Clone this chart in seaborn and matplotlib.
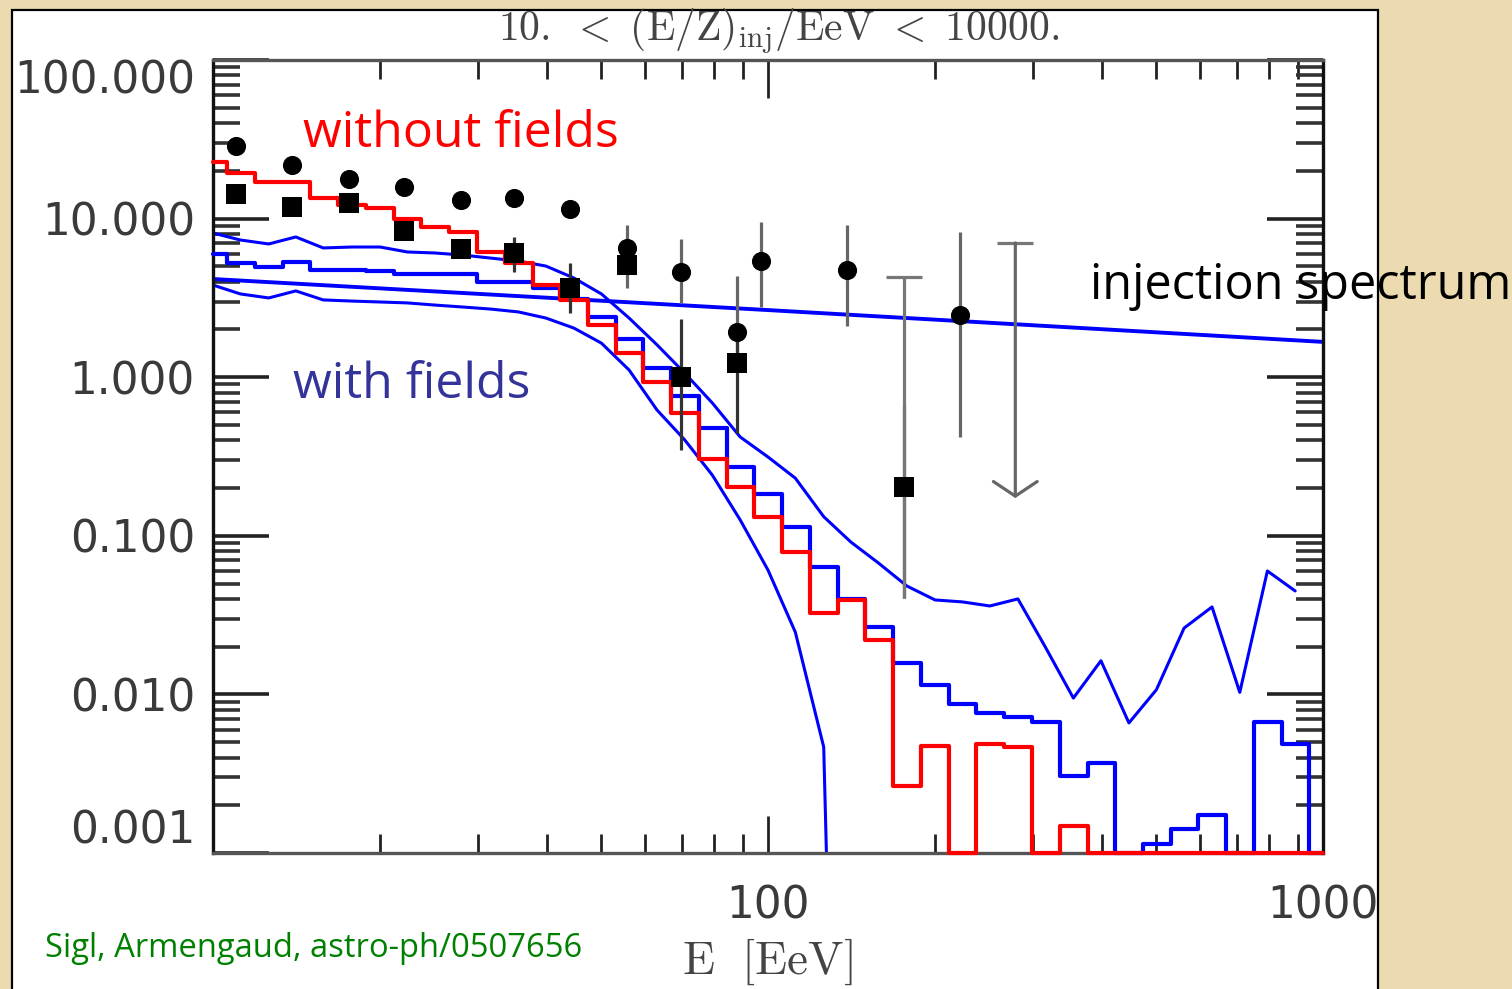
"""UHECR spectra with and without magnetic fields compared to data."""

from __future__ import annotations

import matplotlib
import matplotlib.pyplot as plt
import numpy as np
import seaborn as sns
from matplotlib.patches import Rectangle
from matplotlib.ticker import LogLocator, NullFormatter

matplotlib.use("Agg")

FIG_W, FIG_H = 1512, 989
Y_MIN, Y_MAX = 1e-3, 100.0

# histogram bin centres (EeV), 20 bins per decade
bin_energy = [10.0, 11.2, 12.6, 14.1, 15.8, 17.8, 20.0, 22.4, 25.1, 28.2, 31.6, 35.5, 39.8, 44.7,
              50.1, 56.2, 63.1, 70.8, 79.4, 89.1, 100.0, 112.0, 126.0, 141.0, 158.0, 178.0, 200.0,
              224.0, 251.0, 282.0, 316.0, 355.0, 398.0, 447.0, 501.0, 562.0, 631.0, 708.0, 794.0,
              891.0, 1000.0]

# "without fields" histogram
red_hist = [22.7, 19.4, 17.0, 17.0, 13.5, 12.2, 11.7, 9.96, 8.86, 8.26, 6.17, 5.25, 3.81, 3.07,
            2.13, 1.42, 0.93, 0.594, 0.305, 0.203, 0.132, 0.079, 0.0326, 0.0394, 0.0220, 0.00264,
            0.00473, 0.0, 0.00486, 0.00466, 0.0, 0.00148, 0.0, 0.0, 0.0, 0.0, 0.0, 0.0, 0.0, 0.0, 0.0]

# "with fields" histogram
blue_hist = [5.98, 5.25, 4.95, 5.33, 4.74, 4.74, 4.70, 4.47, 4.47, 4.47, 3.98, 3.98, 3.65, 3.11,
             2.40, 1.74, 1.14, 0.760, 0.479, 0.272, 0.184, 0.113, 0.0635, 0.0400, 0.0266, 0.0158,
             0.01146, 0.00868, 0.00764, 0.00721, 0.00670, 0.00305, 0.00369, 0.0, 0.00114, 0.00142,
             0.00174, 0.0, 0.00670, 0.00486, 0.0]

# "with fields" upper / lower envelopes
upper_curve = [8.11, 7.33, 6.92, 7.66, 6.53, 6.62, 6.62, 6.16, 6.07, 5.89, 5.64, 5.40, 5.02, 4.22,
               3.35, 2.36, 1.60, 1.06, 0.687, 0.420, 0.314, 0.231, 0.132, 0.0914, 0.0675, 0.0482,
               0.0394, 0.0383, 0.0361, 0.0400, 0.0199, 0.00948, 0.0163, 0.00661, 0.0107, 0.0262,
               0.0356, 0.0103, 0.0600, 0.0449]
lower_curve = [3.81, 3.35, 3.16, 3.50, 3.07, 3.02, 2.98, 2.94, 2.85, 2.77, 2.69, 2.58, 2.36, 2.04,
               1.64, 1.11, 0.621, 0.402, 0.241, 0.126, 0.0608, 0.0247, 0.00466, 0.0]

# injection spectrum
inj_energy = [10.0, 100.0, 1000.0]
inj_flux = [4.16, 2.65, 1.67]

# data points: circles
circ_energy = [11.0, 13.9, 17.6, 22.1, 28.0, 34.9, 43.9, 55.6, 69.8, 87.9, 97.1, 139.0, 222.0]
circ_flux = [28.7, 21.8, 17.8, 15.8, 13.1, 13.5, 11.5, 6.53, 4.61, 1.93, 5.40, 4.74, 2.47]
circ_lo = [np.nan] * 7 + [3.65, 2.94, 1.23, 2.77, 2.10, 0.420]
circ_hi = [np.nan] * 7 + [9.12, 7.43, 4.35, 9.52, 9.12, 8.23]

# data points: squares
sq_energy = [11.0, 13.9, 17.6, 22.1, 28.0, 34.9, 43.9, 55.6, 69.8, 87.9, 176.0]
sq_flux = [14.3, 11.8, 12.5, 8.35, 6.43, 6.07, 3.65, 5.10, 1.00, 1.23, 0.203]
sq_lo = [np.nan] * 5 + [4.61, 2.54, np.nan, 0.348, 0.445, 0.0406]
sq_hi = [np.nan] * 5 + [7.66, 5.25, np.nan, 2.33, 1.93, 0.668]

# bars without a visible point (second one is an upper limit)
lim_energy = [176.0, 279.0]
lim_lo = [0.0406, 0.173]
lim_hi = [4.28, 7.02]

y_ticks = [1e-3, 1e-2, 1e-1, 1.0, 10.0, 100.0]
y_labels = ["0.001", "0.010", "0.100", "1.000", "10.000", "100.000"]
x_ticks = [10.0, 100.0, 1000.0]
x_labels = ["", "100", "1000"]


def fig_xy(x: float, y: float) -> tuple[float, float]:
    """Pixel position in the reference -> figure fraction."""
    return x / FIG_W, 1 - y / FIG_H


def draw_bars(ax, energy, lo, hi, color):
    energy, lo, hi = (np.asarray(a, dtype=float) for a in (energy, lo, hi))
    ok = ~np.isnan(lo)
    ax.vlines(energy[ok], lo[ok], hi[ok], colors=color, lw=2.3, zorder=3)


def main() -> None:
    sns.set_style("white")
    plt.rcParams["mathtext.fontset"] = "cm"

    fig = plt.figure(figsize=(FIG_W / 100, FIG_H / 100), dpi=100, facecolor="#ecdbb0")
    fig.add_artist(Rectangle(fig_xy(12, 1000), (1378 - 12) / FIG_W, (1000 - 10) / FIG_H,
                             transform=fig.transFigure, facecolor="white", edgecolor="black",
                             lw=1.6, zorder=-1))

    left, top = fig_xy(213, 60)
    right, bottom = fig_xy(1323, 853)
    ax = fig.add_axes([left, bottom, right - left, top - bottom])
    ax.set_facecolor("white")
    ax.set_xscale("log")
    ax.set_yscale("log")
    ax.set_xlim(10, 1000)
    ax.set_ylim(Y_MIN, Y_MAX)

    # histograms (empty bins run along the bottom axis)
    sns.lineplot(x=bin_energy, y=np.maximum(blue_hist, Y_MIN), drawstyle="steps-mid",
                 color="#0000ff", lw=3.0, estimator=None, clip_on=False, zorder=3, ax=ax)
    sns.lineplot(x=bin_energy, y=np.maximum(red_hist, Y_MIN), drawstyle="steps-mid",
                 color="#ff0000", lw=3.0, estimator=None, clip_on=False, zorder=3, ax=ax)

    # smooth "with fields" curves and injection spectrum
    sns.lineplot(x=bin_energy[:len(upper_curve)], y=upper_curve, color="#0000ff", lw=2.2,
                 estimator=None, ax=ax)
    sns.lineplot(x=bin_energy[:len(lower_curve)], y=np.maximum(lower_curve, 1e-9),
                 color="#0000ff", lw=2.2, estimator=None, ax=ax)
    sns.lineplot(x=inj_energy, y=inj_flux, color="#0000ff", lw=2.8, estimator=None, ax=ax)

    # error bars
    draw_bars(ax, circ_energy, circ_lo, circ_hi, "#666666")
    draw_bars(ax, sq_energy, sq_lo, sq_hi, "#333333")
    ax.vlines(lim_energy[0], lim_lo[0], lim_hi[0], colors="#777777", lw=2.3, zorder=3)
    ax.plot(lim_energy, lim_hi, ls="none", marker="_", ms=26, mew=2.3, color="#777777", zorder=3)
    ax.annotate("", xy=(lim_energy[1], lim_lo[1]), xytext=(lim_energy[1], lim_hi[1]),
                arrowprops=dict(arrowstyle="->,head_length=0.3,head_width=0.45", color="#666666",
                                lw=2.3, shrinkA=0, shrinkB=0, mutation_scale=35), zorder=3)

    sns.scatterplot(x=circ_energy, y=circ_flux, marker="o", s=190, color="black",
                    edgecolor="black", linewidth=0, zorder=5, ax=ax)
    sns.scatterplot(x=sq_energy, y=sq_flux, marker="s", s=190, color="black",
                    edgecolor="black", linewidth=0, zorder=5, ax=ax)

    # axes dressing
    ax.set_xticks(x_ticks, labels=x_labels)
    ax.set_yticks(y_ticks, labels=y_labels)
    ax.xaxis.set_minor_locator(LogLocator(base=10, subs=np.arange(2, 10), numticks=50))
    ax.yaxis.set_minor_locator(LogLocator(base=10, subs=np.arange(2, 10), numticks=50))
    ax.xaxis.set_minor_formatter(NullFormatter())
    ax.yaxis.set_minor_formatter(NullFormatter())
    ax.tick_params(axis="y", which="major", direction="in", length=40, width=2.6,
                   left=True, right=True, color="#222222", labelcolor="#3a3a3a",
                   labelsize=31.5, pad=13)
    ax.tick_params(axis="y", which="minor", direction="in", length=19.5, width=2.6,
                   left=True, right=True, color="#333333")
    ax.tick_params(axis="x", which="major", direction="in", length=27, width=2.0,
                   bottom=True, top=True, color="#222222", labelcolor="#3a3a3a",
                   labelsize=31.5, pad=23)
    ax.tick_params(axis="x", which="minor", direction="in", length=14, width=2.0,
                   bottom=True, top=True, color="#222222")
    for lab in ax.get_yticklabels() + ax.get_xticklabels():
        lab.set_fontfamily("DejaVu Sans")
    ax.get_yticklabels()[0].set_va("bottom")
    ax.get_yticklabels()[-1].set_va("top")
    for side, colour in [("left", "#111111"), ("right", "#111111"), ("top", "#555555"),
                         ("bottom", "#555555")]:
        ax.spines[side].set_color(colour)
        ax.spines[side].set_linewidth(2.4)
        ax.spines[side].set_zorder(2.5)

    # texts
    fig.text(*fig_xy(779, 31), r"$\mathrm{10.}\ <\ \mathrm{(E/Z)_{inj}/EeV}\ <\ \mathrm{10000.}$",
             ha="center", va="center", fontsize=30, color="#444444")
    fig.text(*fig_xy(767, 962), r"$\mathrm{E}\ \ \mathrm{[EeV]}$", ha="center", va="center",
             fontsize=34, color="#444444")
    fig.text(*fig_xy(303, 147), "without fields", ha="left", va="baseline", fontsize=36,
             color="#ff0000", family="Open Sans")
    fig.text(*fig_xy(293, 398), "with fields", ha="left", va="baseline", fontsize=36,
             color="#333399", family="Open Sans")
    fig.text(*fig_xy(1090, 299), "injection spectrum", ha="left", va="baseline", fontsize=35,
             color="black", family="Open Sans")
    fig.text(*fig_xy(45, 957), "Sigl, Armengaud, astro-ph/0507656", ha="left", va="baseline",
             fontsize=23.6, color="#008000", family="Open Sans")

    fig.savefig("out.png", dpi=100, facecolor=fig.get_facecolor())
    plt.close(fig)


if __name__ == "__main__":
    main()
